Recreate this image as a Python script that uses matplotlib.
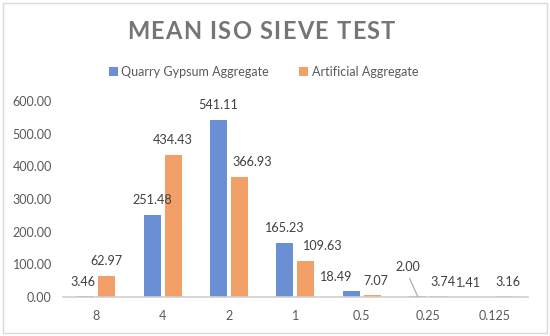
import numpy as np
import matplotlib.pyplot as plt
from matplotlib.patches import Rectangle

# sieve sizes and the two series
sieves = ['8', '4', '2', '1', '0.5', '0.25', '0.125']
quarry = [3.46, 251.48, 541.11, 165.23, 18.49, 2.00, 1.41]
artificial = [62.97, 434.43, 366.93, 109.63, 7.07, 3.74, 3.16]
y_ticks = [0, 100, 200, 300, 400, 500, 600]

plt.rcParams['font.family'] = ['Lato', 'DejaVu Sans']

fig = plt.figure(figsize=(5.5, 3.36), dpi=100)
ax = fig.add_axes([0.1145, 0.116, 0.845, 0.583])

x = np.arange(len(sieves))
w = 0.255
off = 0.158
blue = '#6a8fd4'
orange = '#f2a067'
b1 = ax.bar(x - off, quarry, w, color=blue, label='Quarry Gypsum Aggregate')
b2 = ax.bar(x + off, artificial, w, color=orange, label='Artificial Aggregate')

# data labels (pixel offsets), some nudged aside like the original
shift_q = {0: (-3, 14), 4: (-15, 14), 5: (-10, 29), 6: (-15, 14)}
shift_a = {2: (13, 15), 3: (17, 15), 4: (4, 14), 5: (4, 14), 6: (3, 14)}
lab_col = '#404040'
for i in range(len(sieves)):
    dx, dy = shift_q.get(i, (0, 15))
    ax.annotate('%.2f' % quarry[i], (x[i] - off, quarry[i]), xytext=(dx, dy),
                textcoords='offset pixels', ha='center', va='center',
                fontsize=9.1, color=lab_col)
    dx, dy = shift_a.get(i, (0, 15))
    ax.annotate('%.2f' % artificial[i], (x[i] + off, artificial[i]), xytext=(dx, dy),
                textcoords='offset pixels', ha='center', va='center',
                fontsize=9.1, color=lab_col)

# leader line for the 2.00 label
ax.annotate('', (x[5] - off, quarry[5]), xytext=(-8, 18), textcoords='offset pixels',
            arrowprops=dict(arrowstyle='-', color='#a6a6a6', lw=0.8,
                            shrinkA=0, shrinkB=0))

ax.set_xlim(-0.5, len(sieves) - 0.5)
ax.set_ylim(0, 600)
ax.set_xticks(x)
ax.set_xticklabels(sieves)
ax.set_yticks(y_ticks)
ax.set_yticklabels(['%.2f' % v for v in y_ticks])
ax.tick_params(length=0, labelsize=9, colors='#595959')
ax.tick_params(axis='x', pad=9)
ax.tick_params(axis='y', pad=8)
for s in ['top', 'right', 'left']:
    ax.spines[s].set_visible(False)
ax.spines['bottom'].set_color('#d0d0d0')
ax.spines['bottom'].set_linewidth(1.2)

# title with wide letter spacing, laid out char by char
title = 'MEAN ISO SIEVE TEST'
tsize = 17
renderer = fig.canvas.get_renderer()


def text_w(s):
    t = fig.text(0, 0, s, fontsize=tsize, fontweight='bold')
    wd = t.get_window_extent(renderer).width
    t.remove()
    return wd


space_w = text_w('M M') - text_w('MM')
widths = [space_w if c == ' ' else text_w(c) for c in title]
total = 268.0
track = (total - sum(widths)) / (len(title) - 1)
xpos = 261 - total / 2
for c, wd in zip(title, widths):
    if c != ' ':
        fig.text(xpos / 550, 0.905, c, fontsize=tsize, fontweight='bold',
                 color='#757575', ha='left', va='center')
    xpos += wd + track

fig.legend(handles=[b1, b2], loc='center', bbox_to_anchor=(0.479, 0.786), ncol=2,
           frameon=False, fontsize=9, labelcolor='#595959', handlelength=0.7,
           handleheight=0.7, handletextpad=0.3, columnspacing=2.4)

fig.patches.append(Rectangle((0.006, 0.01), 0.988, 0.98, transform=fig.transFigure,
                             fill=False, edgecolor='#d9d9d9', lw=1))

fig.savefig('out.png', dpi=100)
